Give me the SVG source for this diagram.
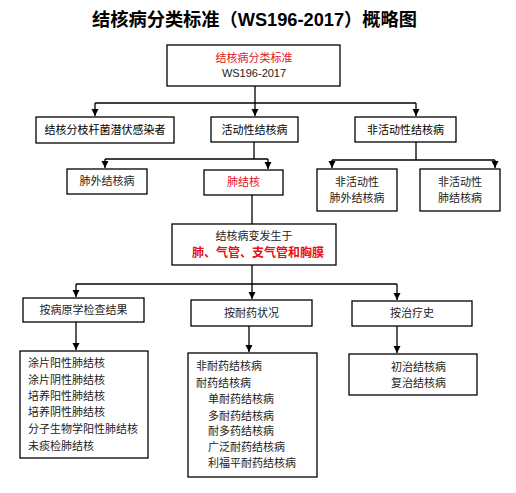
<svg xmlns="http://www.w3.org/2000/svg" width="516" height="493" viewBox="0 0 516 493">
<style>
.box{fill:#fff;stroke:#000;stroke-width:1.3}
.ln{fill:none;stroke:#000;stroke-width:1.3}
text{font-family:"Liberation Sans","Noto Sans CJK SC",sans-serif;font-size:11px;fill:#222}
.c{text-anchor:middle}
.red{fill:#e8101a}
.b{font-weight:bold}
.k{fill:#000}
.t{font-size:18px;font-weight:bold;fill:#000}
</style>
<defs>
<marker id="ah" markerWidth="7" markerHeight="8" refX="7" refY="3.5" orient="auto" markerUnits="userSpaceOnUse">
<path d="M0,0 L7,3.5 L0,7 Z" fill="#000"/>
</marker>
</defs>
<rect width="516" height="493" fill="#fff"/>
<text class="t c" x="254.5" y="26" textLength="325" lengthAdjust="spacingAndGlyphs">结核病分类标准（WS196-2017）概略图</text>

<g id="connectors">
<path class="ln" d="M255,86 V103"/>
<path class="ln" d="M95,103 H416"/>
<path class="ln" d="M95,103 V116" marker-end="url(#ah)"/>
<path class="ln" d="M255,103 V116" marker-end="url(#ah)"/>
<path class="ln" d="M416,103 V116" marker-end="url(#ah)"/>
<path class="ln" d="M254,142 V159"/>
<path class="ln" d="M105,159 H268"/>
<path class="ln" d="M105,159 V168" marker-end="url(#ah)"/>
<path class="ln" d="M268,159 V169" marker-end="url(#ah)"/>
<path class="ln" d="M416,142 V160"/>
<path class="ln" d="M332,160 H495"/>
<path class="ln" d="M332,160 V168" marker-end="url(#ah)"/>
<path class="ln" d="M495,160 V168" marker-end="url(#ah)"/>
<path class="ln" d="M252,195 V224"/>
<path class="ln" d="M252,265 V284"/>
<path class="ln" d="M76,284 H397"/>
<path class="ln" d="M76,284 V297" marker-end="url(#ah)"/>
<path class="ln" d="M252,284 V299" marker-end="url(#ah)"/>
<path class="ln" d="M397,284 V300" marker-end="url(#ah)"/>
<path class="ln" d="M76,322 V350" marker-end="url(#ah)"/>
<path class="ln" d="M249,326 V352" marker-end="url(#ah)"/>
<path class="ln" d="M397,326 V353" marker-end="url(#ah)"/>
</g>

<g id="root">
<rect class="box" x="167" y="45" width="173" height="41"/>
<text class="c red" x="254" y="62">结核病分类标准</text>
<text class="c" x="254" y="77">WS196-2017</text>
</g>

<g id="latent">
<rect class="box" x="36" y="117" width="138" height="26"/>
<text class="c k" x="105" y="134">结核分枝杆菌潜伏感染者</text>
</g>
<g id="active">
<rect class="box" x="211" y="117" width="87" height="25"/>
<text class="c k" x="254.5" y="134">活动性结核病</text>
</g>
<g id="inactive">
<rect class="box" x="355" y="117" width="101" height="25"/>
<text class="c k" x="405.5" y="134">非活动性结核病</text>
</g>

<g id="extrapulmonary">
<rect class="box" x="67" y="169" width="80" height="25"/>
<text class="c" x="107" y="185">肺外结核病</text>
</g>
<g id="pulmonary">
<rect class="box" x="204" y="170" width="79" height="25"/>
<text class="c red" x="243.5" y="186">肺结核</text>
</g>
<g id="inactive-extra">
<rect class="box" x="317" y="169" width="80" height="42"/>
<text class="c" x="357" y="186">非活动性</text>
<text class="c" x="357" y="202">肺外结核病</text>
</g>
<g id="inactive-pulm">
<rect class="box" x="420" y="169" width="80" height="42"/>
<text class="c" x="460" y="186">非活动性</text>
<text class="c" x="460" y="202">肺结核病</text>
</g>

<g id="site">
<rect class="box" x="172" y="224" width="164" height="41"/>
<text class="c" x="254" y="240">结核病变发生于</text>
<text class="c red b" x="258" y="257" style="font-size:12px">肺、气管、支气管和胸膜</text>
</g>

<g id="by-etiology">
<rect class="box" x="23" y="298" width="121" height="24"/>
<text class="c" x="83.5" y="314">按病原学检查结果</text>
</g>
<g id="by-resistance">
<rect class="box" x="191" y="300" width="121" height="26"/>
<text class="c" x="251.5" y="317">按耐药状况</text>
</g>
<g id="by-history">
<rect class="box" x="352" y="301" width="120" height="25"/>
<text class="c" x="412" y="317">按治疗史</text>
</g>

<g id="etiology-list">
<rect class="box" x="20" y="351" width="128" height="107"/>
<text x="28" y="367">涂片阳性肺结核</text>
<text x="28" y="384">涂片阴性肺结核</text>
<text x="28" y="400">培养阳性肺结核</text>
<text x="28" y="416">培养阴性肺结核</text>
<text x="28" y="433">分子生物学阳性肺结核</text>
<text x="28" y="450">未痰检肺结核</text>
</g>
<g id="resistance-list">
<rect class="box" x="188" y="353" width="129" height="124"/>
<text x="196" y="370">非耐药结核病</text>
<text x="196" y="387">耐药结核病</text>
<text x="208" y="403">单耐药结核病</text>
<text x="208" y="420">多耐药结核病</text>
<text x="208" y="435">耐多药结核病</text>
<text x="208" y="451">广泛耐药结核病</text>
<text x="208" y="467">利福平耐药结核病</text>
</g>
<g id="history-list">
<rect class="box" x="349" y="354" width="128" height="41"/>
<text x="391" y="371">初治结核病</text>
<text x="391" y="387">复治结核病</text>
</g>
</svg>
